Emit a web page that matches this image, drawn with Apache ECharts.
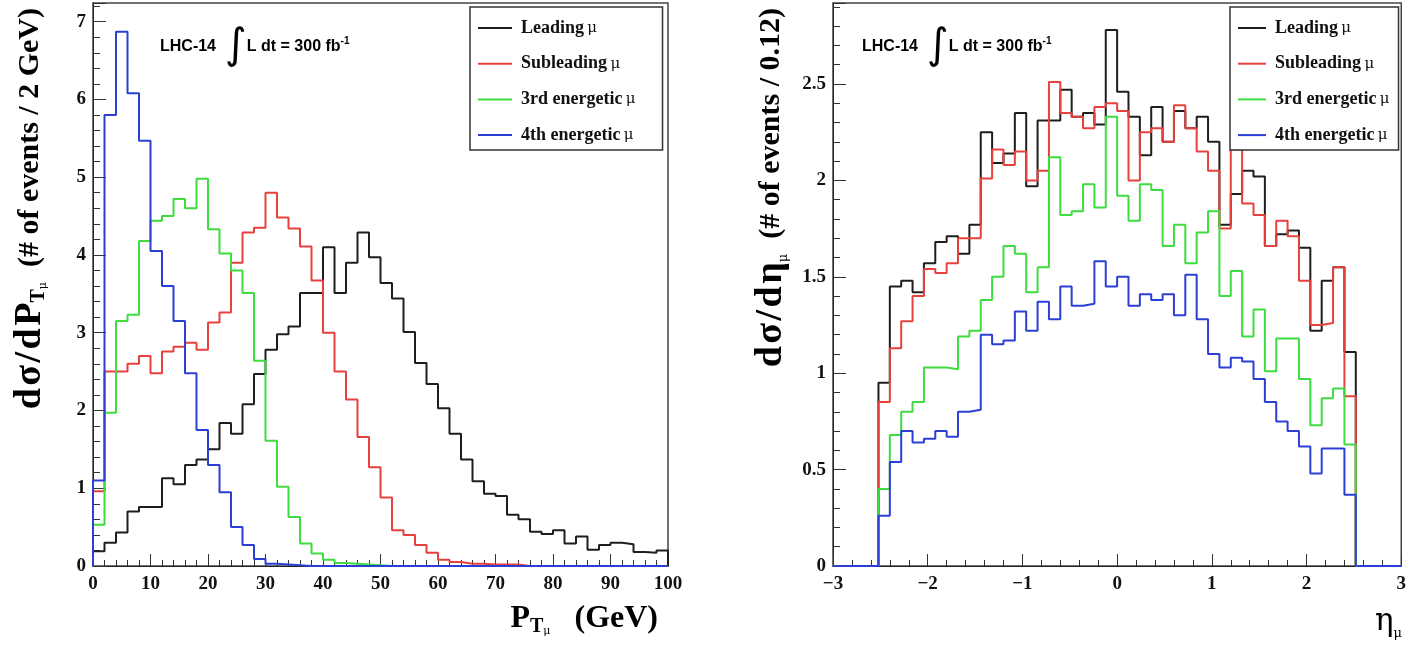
<!DOCTYPE html>
<html><head><meta charset="utf-8">
<script src="https://cdn.jsdelivr.net/npm/echarts@6/dist/echarts.min.js"></script>
<style>html,body{margin:0;padding:0;background:#fff}#c{width:1409px;height:646px}</style>
</head><body><div id="c"></div>
<script>
// ---------- DATA ----------
const seriesNames = ['Leading μ', 'Subleading μ', '3rd energetic μ', '4th energetic μ'];
const seriesColors = ['#1e1e1e', '#e8403c', '#3fdc3f', '#2b3fd6'];

// Left panel: P_T histograms, 50 bins of 2 GeV from 0 to 100
const ptStart = 0, ptBinWidth = 2;
const ptLeading = [0.19,0.3,0.43,0.7,0.76,0.76,1.13,1.05,1.3,1.37, 1.5,1.84,1.7,2.08,2.47,2.78,2.98,3.08,3.51,3.51,
  4.1,3.51,3.9,4.29,3.97,3.64,3.44,3.01,2.61,2.34, 2.03,1.7,1.37,1.09,0.93,0.9,0.66,0.6,0.44,0.41,
  0.46,0.29,0.38,0.21,0.27,0.3,0.28,0.18,0.17,0.2];
const ptSubleading = [0.96,2.5,2.5,2.6,2.7,2.48,2.76,2.82,2.87,2.78, 3.13,3.26,3.9,4.29,4.35,4.8,4.48,4.34,4.11,3.67,
  3.0,2.5,2.14,1.66,1.27,0.88,0.46,0.4,0.27,0.17, 0.08,0.05,0.03,0.03,0.02,0.02,0.02,0,0,0,
  0,0,0,0,0,0,0,0,0,0];
const ptThird = [0.53,1.97,3.15,3.23,4.18,4.44,4.5,4.72,4.6,4.98, 4.33,4.02,3.8,3.51,2.64,1.61,1.02,0.63,0.29,0.16,
  0.08,0.04,0.03,0.02,0.01,0,0,0,0,0, 0,0,0,0,0,0,0,0,0,0, 0,0,0,0,0,0,0,0,0,0];
const ptFourth = [1.1,5.8,6.87,6.08,5.47,4.05,3.6,3.15,2.48,1.75, 1.3,0.95,0.5,0.27,0.09,0.03,0.02,0.01,0,0,
  0,0,0,0,0,0,0,0,0,0, 0,0,0,0,0,0,0,0,0,0, 0,0,0,0,0,0,0,0,0,0];

// Right panel: eta histograms, bins of 0.12 from -3 to 3 (filled only for |eta| < 2.52)
const etaStart = -3, etaBinWidth = 0.12, etaEmptyBins = 4;
const etaLeading = [0.95,1.45,1.48,1.42,1.57,1.68,1.71,1.62,1.77,2.25, 2.09,2.14,2.35,1.97,2.31,2.31,2.47,2.33,2.35,2.29,
  2.78,2.46,2.33,2.13,2.38,2.2,2.36,2.27,2.33,2.2, 1.77,1.93,2.05,2.02,1.66,1.72,1.74,1.65,1.22,1.48, 1.55,1.11];
const etaSubleading = [0.85,1.13,1.27,1.4,1.54,1.52,1.57,1.7,1.7,2.01, 2.16,2.08,2.15,2.0,2.05,2.51,2.35,2.33,2.27,2.38,
  2.4,2.36,2.0,2.25,2.27,2.2,2.39,2.27,2.15,2.05, 1.75,2.16,1.88,1.82,1.66,1.79,1.71,1.48,1.25,1.26, 1.55,0.88];
const etaThird = [0.4,0.68,0.8,0.85,1.03,1.03,1.02,1.19,1.22,1.38, 1.5,1.66,1.62,1.42,1.55,2.12,1.82,1.84,1.98,1.86,
  2.33,1.92,1.79,1.98,1.95,1.66,1.77,1.57,1.73,1.84, 1.4,1.53,1.19,1.33,1.01,1.18,1.18,0.97,0.73,0.87, 0.92,0.63];
const etaFourth = [0.26,0.54,0.7,0.64,0.66,0.7,0.67,0.8,0.81,1.2, 1.15,1.17,1.32,1.22,1.37,1.28,1.45,1.35,1.36,1.58,
  1.45,1.5,1.35,1.41,1.38,1.41,1.3,1.51,1.28,1.1, 1.03,1.08,1.06,0.97,0.85,0.75,0.7,0.62,0.48,0.61, 0.61,0.37];

const ptTicks = {min: 0, max: 100, interval: 10};
const etaTicks = {min: -3, max: 3, interval: 1};
const ptYAxis = {min: 0, max: 7.24, interval: 1};
const etaYAxis = {min: 0, max: 2.92, interval: 0.5};

// ---------- BUILD ----------
function padEta(arr) {
  const z = new Array(etaEmptyBins).fill(0);
  return z.concat(arr, z);
}
function histPoints(values, start, width) {
  const edge = i => +(start + i * width).toFixed(6);
  const pts = [[edge(0), 0]];
  values.forEach((v, i) => pts.push([edge(i), v]));
  pts.push([edge(values.length), values[values.length - 1]]);
  pts.push([edge(values.length), 0]);
  return pts;
}
const ptSets = [ptLeading, ptSubleading, ptThird, ptFourth];
const etaSets = [etaLeading, etaSubleading, etaThird, etaFourth].map(padEta);

const serifBold = {fontFamily: 'Liberation Serif', fontWeight: 'bold', color: '#111'};
const tickColor = '#333';

function xAxisCfg(gridIndex, t, fmt) {
  return {
    type: 'value', gridIndex, min: t.min, max: t.max, interval: t.interval,
    axisLine: {show: true, onZero: false, lineStyle: {color: '#222', width: 1}},
    axisTick: {show: true, inside: true, length: 12, lineStyle: {color: tickColor, width: 1}},
    minorTick: {show: true, splitNumber: 5, length: 6, lineStyle: {color: tickColor, width: 1}},
    splitLine: {show: false},
    axisLabel: Object.assign({fontSize: 19, margin: 9, formatter: fmt}, serifBold)
  };
}
function yAxisCfg(gridIndex, t) {
  return {
    type: 'value', gridIndex, min: t.min, max: t.max, interval: t.interval,
    axisLine: {show: true, onZero: false, lineStyle: {color: '#222', width: 1}},
    axisTick: {show: true, inside: true, length: 13, lineStyle: {color: tickColor, width: 1}},
    minorTick: {show: true, splitNumber: 5, length: 7, lineStyle: {color: tickColor, width: 1}},
    splitLine: {show: false},
    axisLabel: Object.assign({fontSize: 19, margin: 7, showMaxLabel: false}, serifBold)
  };
}

const series = [];
ptSets.forEach((vals, i) => series.push({
  name: seriesNames[i], type: 'line', xAxisIndex: 0, yAxisIndex: 0, step: 'end',
  showSymbol: false, symbol: 'none', data: histPoints(vals, ptStart, ptBinWidth),
  lineStyle: {color: seriesColors[i], width: 2}, itemStyle: {color: seriesColors[i]}, z: 2 + i
}));
etaSets.forEach((vals, i) => series.push({
  name: seriesNames[i], type: 'line', xAxisIndex: 1, yAxisIndex: 1, step: 'end',
  showSymbol: false, symbol: 'none', data: histPoints(vals, etaStart, etaBinWidth),
  lineStyle: {color: seriesColors[i], width: 2}, itemStyle: {color: seriesColors[i]}, z: 2 + i
}));

const legendRich = {
  b: {fontFamily: 'Liberation Serif', fontWeight: 'bold', fontSize: 18, lineHeight: 18, color: '#111', padding: [0, 0, 0, 4]},
  m: {fontFamily: 'DejaVu Serif', fontSize: 15, lineHeight: 18, color: '#111'}
};
const legendFmt = name => {
  const parts = name.split(' ');
  const mu = parts.pop();
  return '{b|' + parts.join(' ') + '} {m|' + mu + '}';
};
function legendCfg(left, iconW, padRight) {
  return {
    data: seriesNames, orient: 'vertical', left, top: 7, icon: 'rect',
    itemWidth: iconW, itemHeight: 2, itemGap: 17.7,
    padding: [12, padRight, 6, 8], borderColor: '#333', borderWidth: 1.5, backgroundColor: '#fff',
    selectedMode: false, formatter: legendFmt, textStyle: {rich: legendRich}
  };
}

const titleRich = {
  t: {fontFamily: 'Liberation Serif', fontWeight: 'bold', fontSize: 30, lineHeight: 38, color: '#111'},
  d: {fontFamily: 'Liberation Serif', fontWeight: 'bold', fontSize: 38, lineHeight: 38, color: '#111'},
  sp: {fontFamily: 'Liberation Serif', fontSize: 10, lineHeight: 38},
  x: {fontFamily: 'Liberation Serif', fontWeight: 'bold', fontSize: 32, lineHeight: 36, color: '#111'},
  s: {fontFamily: 'Liberation Serif', fontWeight: 'bold', fontSize: 20, lineHeight: 22, verticalAlign: 'bottom', color: '#111'},
  u: {fontFamily: 'DejaVu Serif', fontSize: 11, lineHeight: 6, verticalAlign: 'bottom', color: '#111'},
  g: {fontFamily: 'DejaVu Serif', fontSize: 31, lineHeight: 36, color: '#111'},
  gs: {fontFamily: 'DejaVu Serif', fontSize: 13, lineHeight: 15, verticalAlign: 'bottom', color: '#111'}
};
const lumiRich = {
  a: {fontFamily: 'Liberation Sans', fontWeight: 'bold', fontSize: 16, lineHeight: 18, color: '#111'},
  i: {fontFamily: 'DejaVu Sans', fontSize: 42, lineHeight: 22, color: '#111'},
  p: {fontFamily: 'Liberation Sans', fontWeight: 'bold', fontSize: 10, lineHeight: 10, verticalAlign: 'top', color: '#111'}
};
const lumiText = '{a|LHC-14  }{i|∫}{a|L dt = 300 fb}{p|-1}';

const graphic = [
  {type: 'text', x: 30, y: 8, rotation: Math.PI / 2, z: 10,
   style: {text: '{d|d}{sp| }{d|σ}{sp| }{d|/}{sp| }{d|d}{sp| }{d|P}{s|T}{u|μ}{t|  (# of events / 2 GeV)}', align: 'right', verticalAlign: 'middle', rich: titleRich}},
  {type: 'text', x: 658, y: 619, z: 10,
   style: {text: '{x|P}{s|T}{u|μ}{x|   (GeV)}', align: 'right', verticalAlign: 'middle', rich: titleRich}},
  {type: 'text', x: 771, y: 8, rotation: Math.PI / 2, z: 10,
   style: {text: '{d|d}{sp| }{d|σ}{sp| }{d|/}{sp| }{d|d}{sp| }{d|η}{gs|μ}{t|  (# of events / 0.12)}', align: 'right', verticalAlign: 'middle', rich: titleRich}},
  {type: 'text', x: 1402, y: 622, z: 10,
   style: {text: '{g|η}{gs|μ}', align: 'right', verticalAlign: 'middle', rich: titleRich}},
  {type: 'text', x: 160, y: 47, z: 10, style: {text: lumiText, align: 'left', verticalAlign: 'middle', rich: lumiRich}},
  {type: 'text', x: 862, y: 47, z: 10, style: {text: lumiText, align: 'left', verticalAlign: 'middle', rich: lumiRich}}
];

const option = {
  animation: false,
  backgroundColor: '#fff',
  grid: [
    {left: 93, top: 3, width: 575, height: 563, show: true, borderColor: '#444', borderWidth: 1.5, backgroundColor: 'transparent'},
    {left: 833, top: 3, width: 570, height: 563, show: true, borderColor: '#444', borderWidth: 1.5, backgroundColor: 'transparent'}
  ],
  xAxis: [
    xAxisCfg(0, ptTicks, v => String(v)),
    xAxisCfg(1, etaTicks, v => String(v).replace('-', '\u2212'))
  ],
  yAxis: [yAxisCfg(0, ptYAxis), yAxisCfg(1, etaYAxis)],
  legend: [legendCfg(470, 34, 27), legendCfg(1230, 28, 9)],
  graphic,
  series
};
const chart = echarts.init(document.getElementById('c'), null, {renderer: 'canvas'});
chart.setOption(option);
</script></body></html>
